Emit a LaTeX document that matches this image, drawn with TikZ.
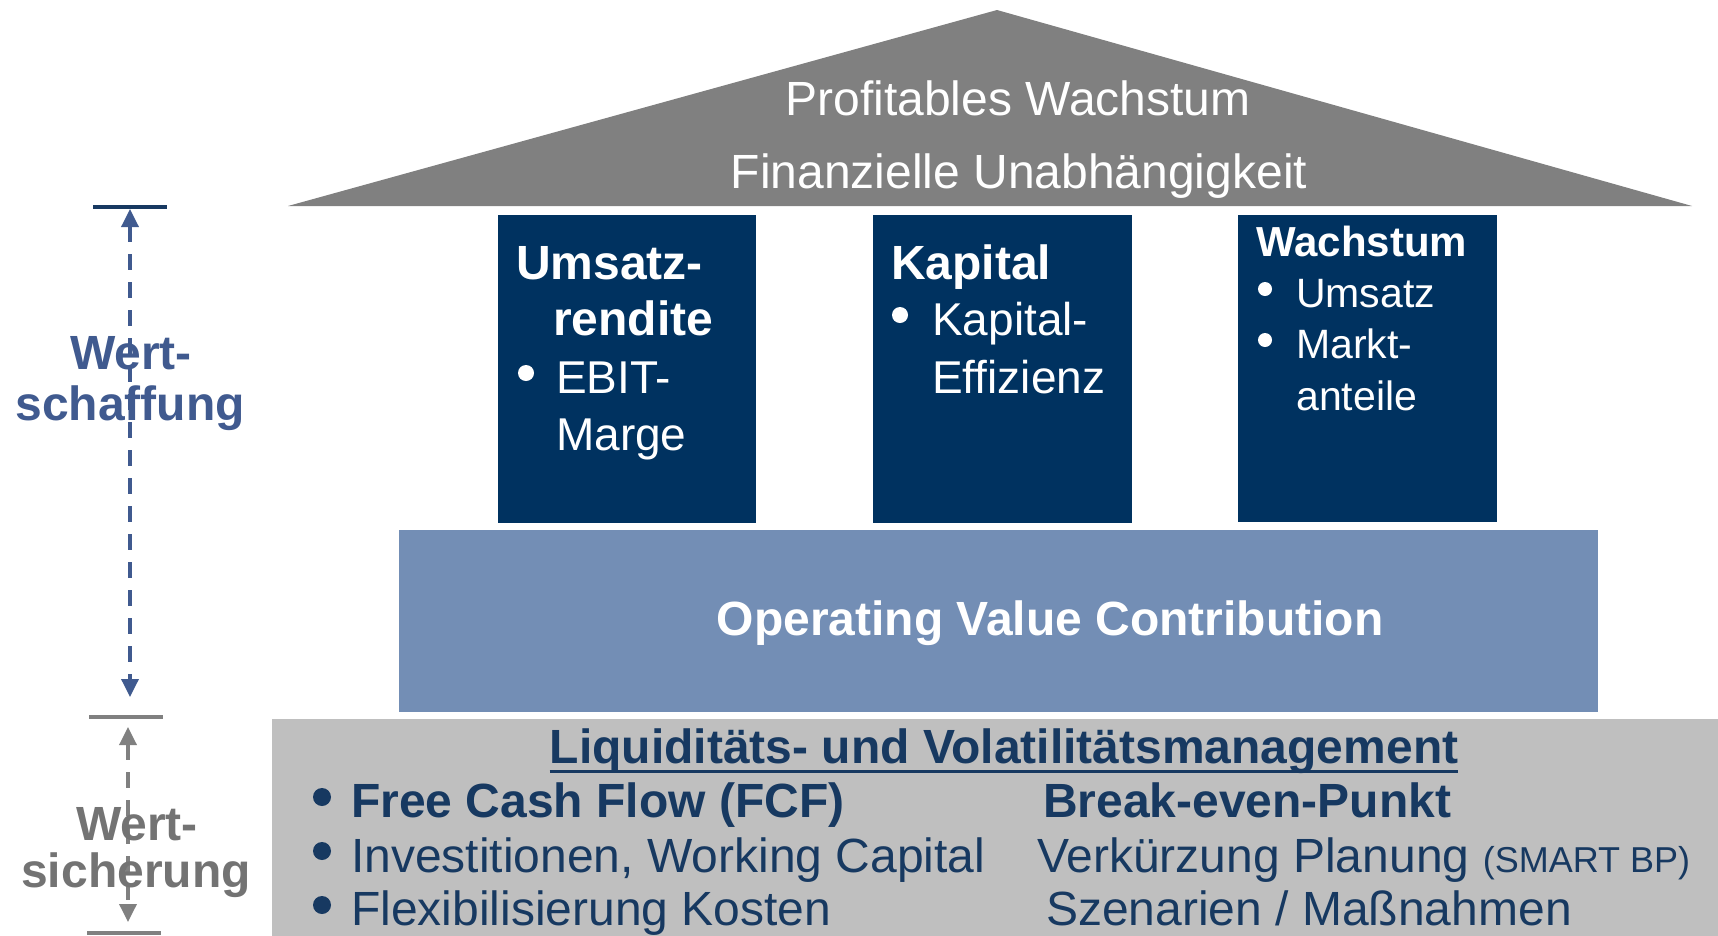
\documentclass[tikz,border=0pt]{standalone}
\usepackage{fontspec}
\setmainfont{Liberation Sans}
\usetikzlibrary{arrows.meta}

\definecolor{roofgray}{RGB}{128,128,128}
\definecolor{pillarnavy}{RGB}{0,50,96}
\definecolor{ovcblue}{RGB}{115,142,181}
\definecolor{basegray}{RGB}{191,191,191}
\definecolor{textnavy}{RGB}{23,57,97}
\definecolor{labelblue}{RGB}{64,90,143}
\definecolor{labelgray}{RGB}{115,115,115}

\tikzset{
x=1pt, y=-1pt, % one unit is one pixel of the slide, y runs downwards
pillar/.style={fill=pillarnavy, inner sep=0pt, anchor=north west, minimum width=258pt, minimum height=308pt}, % the three columns
ovc/.style={fill=ovcblue, inner sep=0pt, anchor=north west, minimum width=1199pt, minimum height=182pt}, % the floor under the columns
basebox/.style={fill=basegray, inner sep=0pt, anchor=north west, minimum width=1460pt, minimum height=225pt}, % the foundation
txtline/.style={inner sep=0pt, anchor=base west}, % one line of text, placed by its baseline
rooftxt/.style={inner sep=0pt, anchor=base, text=white, font=\fontsize{48}{48}\selectfont},
head/.style={txtline, text=white, font=\bfseries\fontsize{48}{48}\selectfont},
item/.style={txtline, text=white, font=\fontsize{46}{46}\selectfont},
basetxt/.style={txtline, text=textnavy, font=\fontsize{48}{48}\selectfont},
sidetxt/.style={inner sep=0pt, anchor=base, font=\bfseries\fontsize{48}{48}\selectfont},
marker/.style={line width=4pt}, % short bars left of the house
span/.style={line width=3.5pt, dash pattern=on 16pt off 12pt, {Triangle[length=18pt,width=17pt]}-{Triangle[length=18pt,width=17pt]}},
}

\begin{document}
\begin{tikzpicture}
\useasboundingbox (0,0) rectangle (1718,935);

% roof
\fill[roofgray] (288,206) -- (997,10) -- (1692,206) -- cycle;
\node[rooftxt] at (1018,115) (roofA) {Profitables Wachstum};
\node[rooftxt] at (1019,188) (roofB) {Finanzielle Unabhängigkeit};

% columns
\node[pillar] at (498,215) (p1) {};
\node[pillar, minimum width=259pt] at (873,215) (p2) {};
\node[pillar, minimum width=259pt, minimum height=307pt] at (1238,215) (p3) {};

\node[head] at (516,279) (p1a) {Umsatz-};
\node[head] at (553,335) (p1b) {rendite};
\fill[white] (526,373) circle (8pt);
\node[item] at (556,393) (p1c) {EBIT-};
\node[item] at (556,450) (p1d) {Marge};

\node[head] at (891,279) (p2a) {Kapital};
\fill[white] (900,315) circle (8pt);
\node[item] at (932,335) (p2b) {Kapital-};
\node[item] at (932,393) (p2c) {Effizienz};

\node[head, font=\bfseries\fontsize{42}{42}\selectfont] at (1256,256) (p3a) {Wachstum};
\fill[white] (1265,289) circle (7pt);
\node[item, font=\fontsize{41}{41}\selectfont] at (1296,307) (p3b) {Umsatz};
\fill[white] (1265,340) circle (7pt);
\node[item, font=\fontsize{41}{41}\selectfont] at (1296,358) (p3c) {Markt-};
\node[item, font=\fontsize{41}{41}\selectfont] at (1296,410) (p3d) {anteile};

% floor
\node[ovc] at (399,530) (ovc) {};
\node[rooftxt, font=\bfseries\fontsize{48}{48}\selectfont] at (1050,635) (ovcT) {Operating Value Contribution};

% foundation
\node[basebox] at (272,719) (base) {};
\node[basetxt, anchor=base, font=\bfseries\fontsize{48}{48}\selectfont] at (1004,763) (title) {Liquiditäts- und Volatilitätsmanagement};
\draw[textnavy, line width=3pt] ([yshift=-8pt]title.base west) -- ([yshift=-8pt]title.base east);

\fill[textnavy] (322,797) circle (9pt);
\fill[textnavy] (322,851) circle (9pt);
\fill[textnavy] (322,905) circle (9pt);
\node[basetxt, font=\bfseries\fontsize{48}{48}\selectfont] at (351,817) (fcf) {Free Cash Flow (FCF)};
\node[basetxt] at (351,872) (inv) {Investitionen, Working Capital};
\node[basetxt] at (351,925) (flex) {Flexibilisierung Kosten};
\node[basetxt, font=\bfseries\fontsize{48}{48}\selectfont] at (1043,817) (bep) {Break-even-Punkt};
\node[basetxt] at (1037,872) (plan) {Verkürzung Planung {\fontsize{36}{36}\selectfont (SMART BP)}};
\node[basetxt] at (1046,925) (szen) {Szenarien / Maßnahmen};

% left: value creation / value protection
\draw[marker, textnavy] (93,207) -- (167,207);
\draw[marker, roofgray] (89,717) -- (163,717);
\draw[marker, roofgray] (87,933) -- (161,933);
\coordinate (wsTop) at (130,209);
\coordinate (wsEnd) at (130,697);
\coordinate (wiTop) at (128,727);
\coordinate (wiEnd) at (128,922);
\draw[span, labelblue] (wsTop) -- (wsEnd);
\draw[span, roofgray] (wiTop) -- (wiEnd);

\node[sidetxt, text=labelblue] at (131,369) (wsA) {Wert-};
\node[sidetxt, text=labelblue] at (130,420) (wsB) {schaffung};
\node[sidetxt, text=labelgray] at (137,840) (wiA) {Wert-};
\node[sidetxt, text=labelgray] at (136,887) (wiB) {sicherung};

\end{tikzpicture}
\end{document}
